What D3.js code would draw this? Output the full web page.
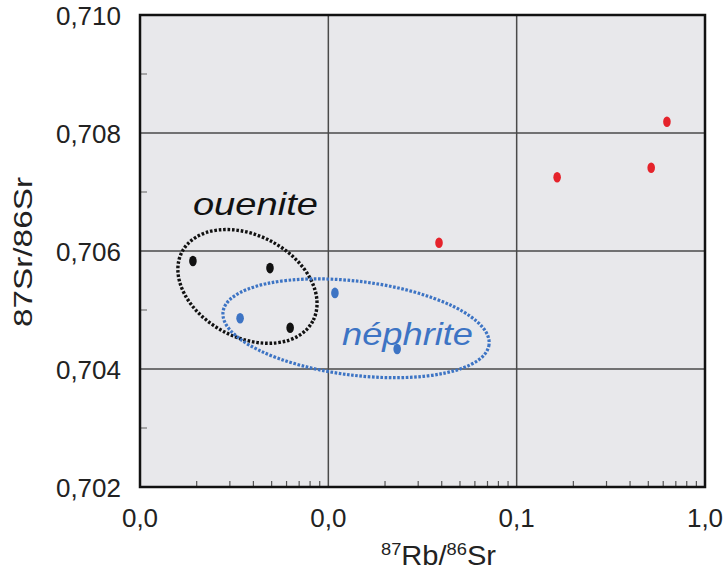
<!DOCTYPE html>
<html>
<head>
<meta charset="utf-8">
<script src="https://d3js.org/d3.v7.min.js"></script>
<style>
  body { margin: 0; background: #fff; }
  text { font-family: "Liberation Sans", Arial, sans-serif; }
</style>
</head>
<body>
<div id="cont"></div>
<script>
    // data (x = 87Rb/86Sr, log; y = 87Sr/86Sr)
    var oueniteX = [0.00191, 0.0049, 0.00627];
    var oueniteY = [0.70583, 0.70571, 0.70470];
    var nephriteX = [0.0034, 0.01084, 0.0232];
    var nephriteY = [0.70486, 0.70529, 0.70434];
    var otherX = [0.0387, 0.164, 0.518, 0.628];
    var otherY = [0.70614, 0.70725, 0.70741, 0.70819];

    var xTicks = [0.001, 0.01, 0.1, 1];
    var yTicks = [0.702, 0.704, 0.706, 0.708, 0.710];
    var yMinor = [0.703, 0.705, 0.707, 0.709];
    var xGrid = [0.01, 0.1];
    var yGrid = [0.704, 0.706, 0.708];

    var width = 723, height = 581;
    var pLeft = 140, pRight = 705, pTop = 15, pBottom = 487;

    var fr = d3.formatLocale({decimal: ",", thousands: ".", grouping: [3], currency: ["", ""]});
    var fx = fr.format(".1f"), fy = fr.format(".3f");

    var svg = d3.select("#cont").append("svg")
        .attr("width", width)
        .attr("height", height);

    var x = d3.scaleLog().domain([0.001, 1]).range([pLeft, pRight]);
    var y = d3.scaleLinear().domain([0.702, 0.710]).range([pBottom, pTop]);

    svg.append("rect")
        .attr("x", pLeft).attr("y", pTop)
        .attr("width", pRight - pLeft).attr("height", pBottom - pTop)
        .attr("fill", "#e8e8eb");

    // grid
    svg.selectAll(".vgrid").data(xGrid).enter().append("line")
        .attr("class", "vgrid")
        .attr("x1", d => x(d)).attr("x2", d => x(d))
        .attr("y1", pTop).attr("y2", pBottom)
        .attr("stroke", "#4a4a4a").attr("stroke-width", 1.5);
    svg.selectAll(".hgrid").data(yGrid).enter().append("line")
        .attr("class", "hgrid")
        .attr("x1", pLeft).attr("x2", pRight)
        .attr("y1", d => y(d)).attr("y2", d => y(d))
        .attr("stroke", "#4a4a4a").attr("stroke-width", 1.5);

    // minor ticks
    var minorX = [];
    [0.001, 0.01, 0.1].forEach(function (dec) {
        for (var k = 2; k <= 9; k++) minorX.push(dec * k);
    });
    svg.selectAll(".mx").data(minorX).enter().append("line")
        .attr("class", "mx")
        .attr("x1", d => x(d)).attr("x2", d => x(d))
        .attr("y1", pBottom).attr("y2", pBottom - 6)
        .attr("stroke", "#555").attr("stroke-width", 1.2);
    svg.selectAll(".my").data(yMinor).enter().append("line")
        .attr("class", "my")
        .attr("x1", pLeft).attr("x2", pLeft + 7)
        .attr("y1", d => y(d)).attr("y2", d => y(d))
        .attr("stroke", "#777").attr("stroke-width", 1.2);

    // frame
    svg.append("rect")
        .attr("x", pLeft).attr("y", pTop)
        .attr("width", pRight - pLeft).attr("height", pBottom - pTop)
        .attr("fill", "none").attr("stroke", "#111").attr("stroke-width", 2.5);

    // tick labels
    svg.selectAll(".xl").data(xTicks).enter().append("text")
        .attr("class", "xl")
        .attr("x", d => x(d)).attr("y", 527)
        .attr("text-anchor", "middle")
        .attr("font-size", 26).attr("fill", "#222")
        .text(d => fx(d));
    svg.selectAll(".yl").data(yTicks).enter().append("text")
        .attr("class", "yl")
        .attr("x", 121).attr("y", d => y(d) + 9.5)
        .attr("text-anchor", "end")
        .attr("font-size", 26).attr("fill", "#222")
        .text(d => fy(d));

    // axis titles
    svg.append("text")
        .attr("transform", "translate(32," + ((pTop + pBottom) / 2 + 1) + ") rotate(-90)")
        .attr("text-anchor", "middle")
        .attr("font-size", 26).attr("fill", "#222")
        .attr("textLength", 150).attr("lengthAdjust", "spacingAndGlyphs")
        .text("87Sr/86Sr");

    var xt = svg.append("text")
        .attr("x", 381).attr("y", 565)
        .attr("font-size", 27).attr("fill", "#222")
        .attr("textLength", 115).attr("lengthAdjust", "spacingAndGlyphs");
    xt.append("tspan").attr("font-size", 17).attr("dy", -10).text("87");
    xt.append("tspan").attr("dy", 10).text("Rb/");
    xt.append("tspan").attr("font-size", 17).attr("dy", -10).text("86");
    xt.append("tspan").attr("dy", 10).text("Sr");

    // group outlines (dotted ellipses)
    var groups = [
        {cx: 0.00372, cy: 0.70540, rx: 74, ry: 51, rot: 28, color: "#111", w: 3.4, dash: "2.6 1.8",
         label: "ouenite", lx: 0.00191, ly: 0.70661, lw: 125},
        {cx: 0.01403, cy: 0.70469, rx: 134, ry: 47, rot: 7, color: "#3d74c4", w: 3.2, dash: "2.6 1.6",
         label: "néphrite", lx: 0.01182, ly: 0.70441, lw: 131}
    ];
    groups.forEach(function (g) {
        svg.append("ellipse")
            .attr("transform", "translate(" + x(g.cx) + "," + y(g.cy) + ") rotate(" + g.rot + ")")
            .attr("rx", g.rx).attr("ry", g.ry)
            .attr("fill", "none")
            .attr("stroke", g.color).attr("stroke-width", g.w)
            .attr("stroke-dasharray", g.dash);
        svg.append("text")
            .attr("x", x(g.lx)).attr("y", y(g.ly))
            .attr("font-size", 32).attr("font-style", "italic")
            .attr("fill", g.color)
            .attr("textLength", g.lw).attr("lengthAdjust", "spacingAndGlyphs")
            .text(g.label);
    });

    // points
    var series = [
        {xs: oueniteX, ys: oueniteY, color: "#111"},
        {xs: nephriteX, ys: nephriteY, color: "#3d74c4"},
        {xs: otherX, ys: otherY, color: "#e5232b"}
    ];
    series.forEach(function (s, si) {
        svg.selectAll(".pt" + si).data(s.xs).enter().append("ellipse")
            .attr("class", "pt" + si)
            .attr("cx", d => x(d))
            .attr("cy", (d, i) => y(s.ys[i]))
            .attr("rx", 3.8).attr("ry", 5.3)
            .attr("fill", s.color);
    });
</script>
</body>
</html>
